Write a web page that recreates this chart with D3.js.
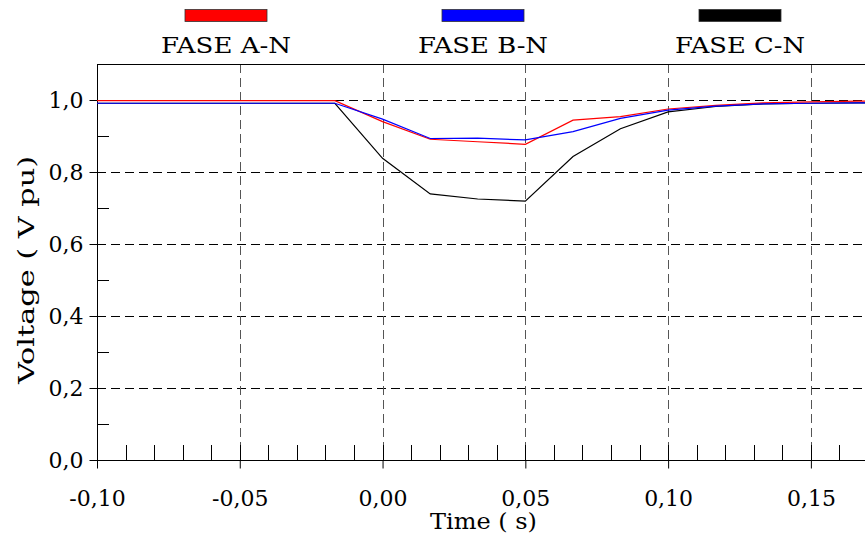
<!DOCTYPE html>
<html>
<head>
<meta charset="utf-8">
<script src="https://cdn.jsdelivr.net/npm/d3@7"></script>
<style>
  html, body { margin: 0; padding: 0; background: #fff; }
  svg { display: block; }
  text { font-family: "DejaVu Serif", serif; fill: #000; }
</style>
</head>
<body>
<svg id="chart" width="865" height="540"></svg>
<script>
// ---- Data ----
const time = [-0.1, -0.0833, -0.0667, -0.05, -0.0333, -0.0167, 0, 0.0167, 0.0333, 0.05, 0.0667, 0.0833, 0.1, 0.1167, 0.1333, 0.15, 0.1667, 0.1833];
const faseA = [0.998, 0.998, 0.998, 0.998, 0.998, 0.998, 0.940, 0.891, 0.884, 0.877, 0.944, 0.954, 0.975, 0.985, 0.992, 0.995, 0.997, 0.998];
const faseB = [0.991, 0.991, 0.991, 0.991, 0.991, 0.991, 0.947, 0.893, 0.894, 0.889, 0.912, 0.949, 0.972, 0.983, 0.989, 0.991, 0.992, 0.992];
const faseC = [0.991, 0.991, 0.991, 0.991, 0.991, 0.991, 0.838, 0.739, 0.725, 0.719, 0.843, 0.920, 0.967, 0.982, 0.989, 0.991, 0.992, 0.992];
const seriesNames = ["FASE A-N", "FASE B-N", "FASE C-N"];
const seriesColors = ["#ff0000", "#0000ff", "#000000"];
const xTickValues = [-0.10, -0.05, 0.00, 0.05, 0.10, 0.15];
const xTickLabels = ["-0,10", "-0,05", "0,00", "0,05", "0,10", "0,15"];
const yTickValues = [0.0, 0.2, 0.4, 0.6, 0.8, 1.0];
const yTickLabels = ["0,0", "0,2", "0,4", "0,6", "0,8", "1,0"];
const xMinorTicks = d3.range(-10, 18).map(i => i / 100);
const yMinorTicks = [0.1, 0.3, 0.5, 0.7, 0.9];
const xTitle = "Time ( s)";
const yTitle = "Voltage ( V pu)";

// ---- Layout ----
const svg = d3.select("#chart");
const pLeft = 97, pTop = 64, pBottom = 460, pRight = 868;
const x = d3.scaleLinear().domain([-0.1, 0.17]).range([pLeft, pRight]);
const y = d3.scaleLinear().domain([0, 1.1]).range([pBottom, pTop]);

const cx = v => Math.round(x(v)) + 0.5;
const cy = v => Math.round(y(v)) + 0.5;

// grid
const grid = svg.append("g");
grid.selectAll("line.h").data(yTickValues.filter(v => v > 0)).join("line")
  .attr("x1", pLeft).attr("x2", 865).attr("y1", cy).attr("y2", cy)
  .attr("stroke", "#000").attr("stroke-width", 1).attr("stroke-dasharray", "9,5");
grid.selectAll("line.v").data(xTickValues.filter(v => v > -0.1)).join("line")
  .attr("x1", cx).attr("x2", cx).attr("y1", pTop).attr("y2", pBottom)
  .attr("stroke", "#555").attr("stroke-width", 1).attr("stroke-dasharray", "9,5");

// minor ticks (inside)
svg.append("g").selectAll("line").data(xMinorTicks).join("line")
  .attr("x1", cx).attr("x2", cx).attr("y1", pBottom - 15).attr("y2", pBottom)
  .attr("stroke", "#000");
svg.append("g").selectAll("line").data(yMinorTicks).join("line")
  .attr("x1", pLeft).attr("x2", pLeft + 12).attr("y1", cy).attr("y2", cy)
  .attr("stroke", "#000");

// axes via d3
const xAxis = d3.axisBottom(x).tickValues(xTickValues).tickSize(8).tickPadding(18)
  .tickFormat((d, i) => xTickLabels[i]);
const gx = svg.append("g").attr("transform", `translate(0,${Math.round(pBottom) + 0.5})`).call(xAxis);
gx.select(".domain").attr("d", `M${pLeft},0H865`);
gx.selectAll("text").style("font-family", "DejaVu Serif").style("font-size", "22px").attr("dy", "0.9em");

const yAxis = d3.axisLeft(y).tickValues(yTickValues).tickSize(8).tickPadding(6)
  .tickFormat((d, i) => yTickLabels[i]);
const gy = svg.append("g").attr("transform", `translate(${pLeft + 0.5},0)`).call(yAxis);
gy.select(".domain").attr("d", `M0,${pTop}V${pBottom}`);
gy.selectAll("text").style("font-family", "DejaVu Serif").style("font-size", "22px");

// top frame
svg.append("line").attr("x1", pLeft).attr("x2", 865).attr("y1", pTop + 0.5).attr("y2", pTop + 0.5)
  .attr("stroke", "#000");

// clip
svg.append("clipPath").attr("id", "clip").append("rect")
  .attr("x", pLeft).attr("y", pTop).attr("width", 865 - pLeft).attr("height", pBottom - pTop);

const line = d3.line().x(d => x(d[0])).y(d => y(d[1]));
const seriesData = [faseA, faseB, faseC];
const drawOrder = [2, 0, 1];
const lines = svg.append("g").attr("clip-path", "url(#clip)");
drawOrder.forEach(k => {
  lines.append("path")
    .datum(time.map((t, i) => [t, seriesData[k][i]]))
    .attr("d", line).attr("fill", "none")
    .attr("stroke", seriesColors[k]).attr("stroke-width", 1.2);
});

// legend
const legendCenters = [226, 483, 740];
const leg = svg.append("g");
seriesNames.forEach((n, i) => {
  leg.append("rect").attr("x", legendCenters[i] - 41).attr("y", 9.5)
    .attr("width", 82).attr("height", 12).attr("fill", seriesColors[i])
    .attr("stroke", "#333").attr("stroke-width", 0.8);
  leg.append("text").attr("x", legendCenters[i] - 65).attr("y", 53)
    .attr("textLength", 130).attr("lengthAdjust", "spacingAndGlyphs")
    .style("font-size", "23px").text(n);
});

// titles
svg.append("text").attr("x", 430).attr("y", 529)
  .attr("textLength", 107).attr("lengthAdjust", "spacingAndGlyphs")
  .style("font-size", "23px").text(xTitle);
svg.append("text").attr("transform", "translate(34,384) rotate(-90)")
  .attr("textLength", 228).attr("lengthAdjust", "spacingAndGlyphs")
  .style("font-size", "23px").text(yTitle);
</script>
</body>
</html>
